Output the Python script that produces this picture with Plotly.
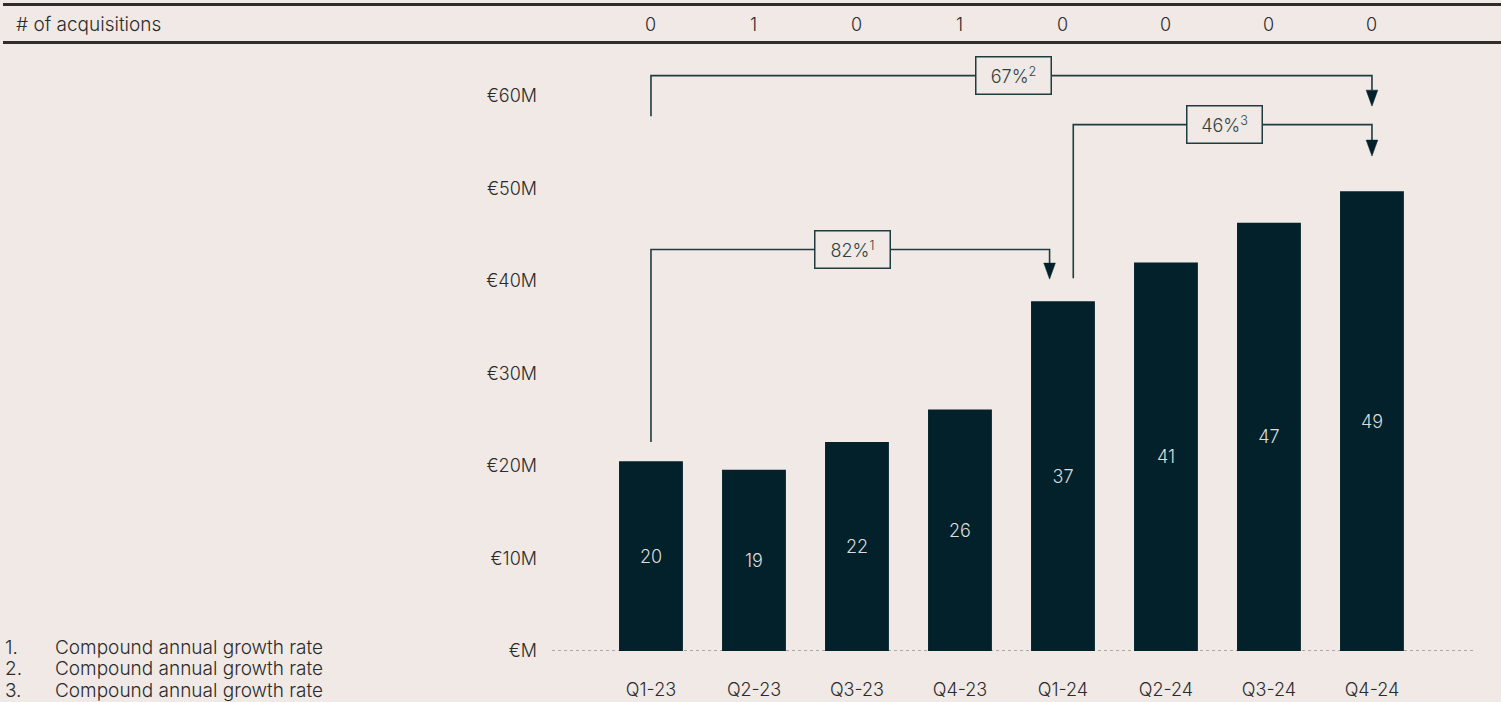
import plotly.graph_objects as go

# ---------------- data ----------------
quarters = ["Q1-23", "Q2-23", "Q3-23", "Q4-23", "Q1-24", "Q2-24", "Q3-24", "Q4-24"]
revenue_m = [20.5, 19.6, 22.6, 26.1, 37.8, 42.0, 46.3, 49.7]
bar_labels = ["20", "19", "22", "26", "37", "41", "47", "49"]
acquisitions = [0, 1, 0, 1, 0, 0, 0, 0]
y_tick_values = [0, 10, 20, 30, 40, 50, 60]
y_tick_labels = ["€M", "€10M", "€20M", "€30M", "€40M", "€50M", "€60M"]
cagr_labels = ["82%", "67%", "46%"]
cagr_notes = ["1", "2", "3"]
cagr_from = [0, 0, 4]
cagr_to = [4, 7, 7]
footnotes = ["Compound annual growth rate", "Compound annual growth rate", "Compound annual growth rate"]

# ---------------- style ----------------
BG = "#f0e9e6"
BAR = "#02212a"
TXT = "#2b2b2b"
LINE = "#1f3d41"
FONT = "Inter"
FS = 18
W = 300

def f(size=FS, color=TXT):
    return dict(size=size, color=color, family=FONT, weight=W)

# bracket geometry (start offset in x, start y, level y, end offset in x, tip y)
bracket_geo = [
    dict(dx0=0.0, y0=22.6, lvl=43.4, dx1=-0.13, tip=40.2, bx=1.956),
    dict(dx0=0.0, y0=57.8, lvl=62.2, dx1=0.0, tip=58.9, bx=3.524),
    dict(dx0=0.1, y0=40.3, lvl=56.9, dx1=0.0, tip=53.5, bx=5.572),
]

XR = [-0.961, 7.981]
YR = [0, 64.86]

fig = go.Figure()
fig.add_trace(go.Bar(
    x=quarters, y=revenue_m, width=0.62,
    marker=dict(color=BAR, line=dict(width=0)),
    text=bar_labels, textposition="inside", insidetextanchor="middle",
    textfont=f(FS, "#dcdcdc"),
    hoverinfo="skip",
))

shapes = []
annotations = []

# dotted baseline
shapes.append(dict(type="line", xref="paper", yref="y", x0=0, x1=1, y0=0, y1=0,
                   line=dict(color="#666666", width=1, dash="dot"), layer="below"))

# header lines
xl = (3 - 552) / 921
xr = (1501 - 552) / 921
for py in (4.5, 42.5):
    yp = (651 - py) / 600
    shapes.append(dict(type="line", xref="paper", yref="paper", x0=xl, x1=xr, y0=yp, y1=yp,
                       line=dict(color="#302c2c", width=3)))
annotations.append(dict(text="# of acquisitions", xref="paper", yref="paper",
                        x=(14 - 552) / 921, y=(651 - 24) / 600, xanchor="left", yanchor="middle",
                        showarrow=False, font=f(19)))
for i, n in enumerate(acquisitions):
    annotations.append(dict(text=str(n), xref="x", yref="paper", x=i, y=(651 - 24) / 600,
                            xanchor="center", yanchor="middle", showarrow=False,
                            font=f()))

# brackets
ah_h = 16 / 9.25
ah_w = 5.8 / 103
for lab, note, fr, t, g in zip(cagr_labels, cagr_notes, cagr_from, cagr_to, bracket_geo):
    xs = fr + g["dx0"]
    xe = t + g["dx1"]
    path = f"M {xs},{g['y0']} L {xs},{g['lvl']} L {xe},{g['lvl']} L {xe},{g['tip'] + ah_h}"
    shapes.append(dict(type="path", xref="x", yref="y", path=path,
                       line=dict(color=LINE, width=1.6)))
    tri = f"M {xe - ah_w},{g['tip'] + ah_h} L {xe + ah_w},{g['tip'] + ah_h} L {xe},{g['tip']} Z"
    shapes.append(dict(type="path", xref="x", yref="y", path=tri,
                       fillcolor=BAR, line=dict(color=BAR, width=0.5)))
    annotations.append(dict(text=f"{lab}<sup>{note}</sup>", xref="x", yref="y",
                            x=g["bx"], y=g["lvl"], xanchor="center", yanchor="middle",
                            showarrow=False, width=58, height=20, borderpad=8,
                            bordercolor=LINE, borderwidth=1.5, bgcolor=BG,
                            font=f(FS, "#2f3f40")))

# footnotes
for i, fn in enumerate(footnotes):
    yp = (651 - (647 + 21.5 * i)) / 600
    annotations.append(dict(text=f"{i + 1}.", xref="paper", yref="paper", x=(3 - 552) / 921, y=yp,
                            xanchor="left", yanchor="middle", showarrow=False,
                            font=f(19)))
    annotations.append(dict(text=fn, xref="paper", yref="paper", x=(53 - 552) / 921, y=yp,
                            xanchor="left", yanchor="middle", showarrow=False,
                            font=f(19)))

fig.update_layout(
    width=1501, height=702,
    margin=dict(l=552, r=28, t=51, b=51, pad=0, autoexpand=False),
    paper_bgcolor=BG, plot_bgcolor=BG,
    showlegend=False,
    font=f(),
    shapes=shapes, annotations=annotations,
    xaxis=dict(type="category", range=XR, showgrid=False, zeroline=False, showline=False,
               automargin=False,
               ticks="", ticklabelstandoff=26, tickfont=f(),
               fixedrange=True),
    yaxis=dict(range=YR, showgrid=False, zeroline=False, showline=False,
               automargin=False,
               tickvals=y_tick_values, ticktext=y_tick_labels, ticks="",
               ticklabelstandoff=14, tickfont=f(),
               fixedrange=True),
    bargap=0.38,
)

fig.write_html("out.html")
